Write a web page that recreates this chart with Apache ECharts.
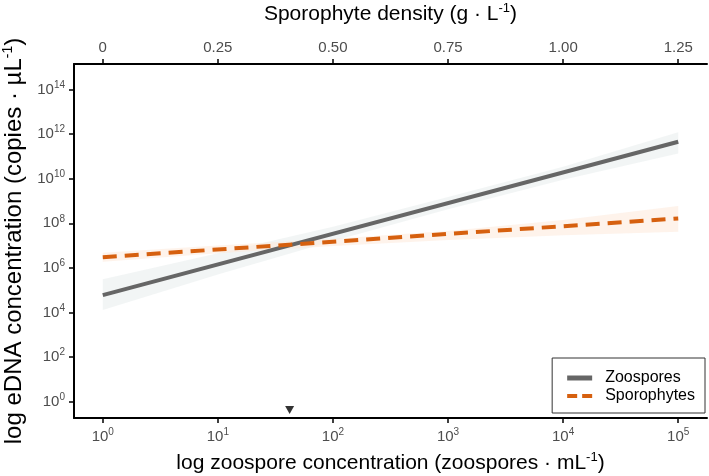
<!DOCTYPE html>
<html>
<head>
<meta charset="utf-8">
<script src="https://cdn.jsdelivr.net/npm/echarts@6/dist/echarts.min.js"></script>
<style>html,body{margin:0;padding:0;background:#fff;}#c{width:709px;height:476px;}</style>
</head>
<body>
<div id="c"></div>
<script>
// ---- data (raw units) ----
const bottomTickExps = [0, 1, 2, 3, 4, 5];           // zoospores · mL^-1 : 10^0 .. 10^5
const leftTickExps = [0, 2, 4, 6, 8, 10, 12, 14];     // copies · µL^-1
const topTicks = [0, 0.25, 0.5, 0.75, 1.0, 1.25];      // g · L^-1
const topTickLabels = ['0', '0.25', '0.50', '0.75', '1.00', '1.25'];

const fitX = [1, 100000];                    // zoospore concentration at ends
const zoosporeFit = [6.0e4, 4.5e11];
const sporophyteFit = [3.0e6, 1.65e8];

const bandX = [1, 10, 100, 1000, 10000, 100000];
const zoosporeLo = [1.3e4, 5.0e5, 1.6e7, 4.2e8, 9.0e9, 1.35e11];
const zoosporeHi = [3.1e5, 4.5e6, 7.0e7, 1.5e9, 3.4e10, 1.2e12];
const sporophyteLo = [1.9e6, 4.5e6, 9.5e6, 1.8e7, 2.9e7, 4.2e7];
const sporophyteHi = [4.8e6, 1.0e7, 2.0e7, 4.5e7, 1.4e8, 5.9e8];

const markerX = [42];       // crossing point marker (zoospores · mL^-1)
const markerY = [0.43];

// ---- helpers ----
const L = Math.log10;
const pairs = (xs, ys) => xs.map((x, i) => [L(x), L(ys[i])]);
const FONT = 'Liberation Sans';
const supRich = { b: { fontSize: 15, color: '#4d4d4d', fontFamily: FONT }, s: { fontSize: 10, color: '#4d4d4d', fontFamily: FONT, padding: [0, 0, 9, 0] } };
const mkTitleRich = (fs, ss, pad) => ({ t: { fontSize: fs, color: '#000', fontFamily: FONT }, s: { fontSize: ss, color: '#000', fontFamily: FONT, padding: [0, 0, pad, 0] } });

const bandRows = (xs, lo, hi) => xs.map((x, i) => [L(x), L(lo[i]), L(hi[i])]);
function bandSeries(name, rows, color) {
  return {
    name: name, type: 'custom', silent: true, clip: true, z: 1,
    data: [0],
    renderItem: function (params, api) {
      const upper = rows.map(r => api.coord([r[0], r[2]]));
      const lower = rows.map(r => api.coord([r[0], r[1]])).reverse();
      return { type: 'polygon', shape: { points: upper.concat(lower) }, style: { fill: color } };
    }
  };
}

const chart = echarts.init(document.getElementById('c'), null, { renderer: 'canvas' });

const axisLineStyle = { show: true, onZero: false, lineStyle: { color: '#000', width: 2 } };
const tickStyle = { show: true, length: 5, lineStyle: { color: '#000', width: 1.5 } };

chart.setOption({
  animation: false,
  backgroundColor: '#fff',
  grid: { left: 74, right: 2, top: 64, bottom: 58, containLabel: false, outerBoundsMode: 'none' },
  xAxis: [
    {
      type: 'value', position: 'bottom', min: -0.25, max: 5.25,
      axisLine: axisLineStyle, splitLine: { show: false },
      axisTick: Object.assign({}, tickStyle, { customValues: bottomTickExps }),
      axisLabel: { customValues: bottomTickExps, margin: 9, formatter: v => '{b|10}{s|' + Math.round(v) + '}', rich: supRich },
      name: '{t|log zoospore concentration (zoospores · mL}{s|-1}{t|)}',
      nameLocation: 'middle', nameGap: 33, nameTextStyle: { rich: mkTitleRich(21, 13, 11) }
    },
    {
      type: 'value', position: 'top', min: -0.0625, max: 1.3125,
      axisLine: axisLineStyle, splitLine: { show: false },
      axisTick: Object.assign({}, tickStyle, { customValues: topTicks }),
      axisLabel: { customValues: topTicks, margin: 9, fontSize: 15, color: '#4d4d4d', fontFamily: FONT,
        formatter: v => topTickLabels[topTicks.findIndex(t => Math.abs(t - v) < 1e-9)] },
      name: '{t|Sporophyte density (g · L}{s|-1}{t|)}',
      nameLocation: 'middle', nameGap: 38, nameTextStyle: { rich: mkTitleRich(21, 13, 11) }
    }
  ],
  yAxis: {
    type: 'value', min: -0.73, max: 15.14,
    axisLine: axisLineStyle, splitLine: { show: false },
    axisTick: Object.assign({}, tickStyle, { customValues: leftTickExps }),
    axisLabel: { customValues: leftTickExps, margin: 9, formatter: v => '{b|10}{s|' + Math.round(v) + '}', rich: supRich },
    name: '{t|log eDNA concentration (copies · µL}{s|-1}{t|)}',
    nameLocation: 'middle', nameGap: 39, nameRotate: 90, nameTextStyle: { rich: mkTitleRich(24, 14, 12) }
  },
  legend: {
    data: [
      { name: 'Zoospores', icon: 'rect' },
      { name: 'Sporophytes', icon: 'path://M0,0H10V4H0Z M15,0H25V4H15Z' }
    ],
    orient: 'vertical', right: 4, top: 358,
    itemWidth: 25, itemHeight: 5, itemGap: 2,
    padding: [12, 10, 9, 15],
    borderColor: '#333', borderWidth: 1, borderRadius: 0, backgroundColor: '#fff',
    textStyle: { fontSize: 16, color: '#000', fontFamily: FONT, padding: [0, 0, 0, 8] }
  },
  series: [
    bandSeries('zband', bandRows(bandX, zoosporeLo, zoosporeHi), 'rgba(232,236,236,0.55)'),
    bandSeries('sband', bandRows(bandX, sporophyteLo, sporophyteHi), 'rgba(253,232,216,0.5)'),
    { name: 'Zoospores', type: 'line', symbol: 'none', color: '#666666', z: 3,
      lineStyle: { color: '#666666', width: 4 }, data: pairs(fitX, zoosporeFit) },
    { name: 'Sporophytes', type: 'line', symbol: 'none', color: '#d6600f', z: 4,
      lineStyle: { color: '#d6600f', width: 4, type: [14, 8] }, data: pairs(fitX, sporophyteFit) },
    { name: 'marker', type: 'scatter', symbol: 'triangle', symbolRotate: 180, symbolSize: [9, 8],
      itemStyle: { color: '#000' }, data: pairs(markerX, markerY), silent: true }
  ]
});
</script>
</body>
</html>
